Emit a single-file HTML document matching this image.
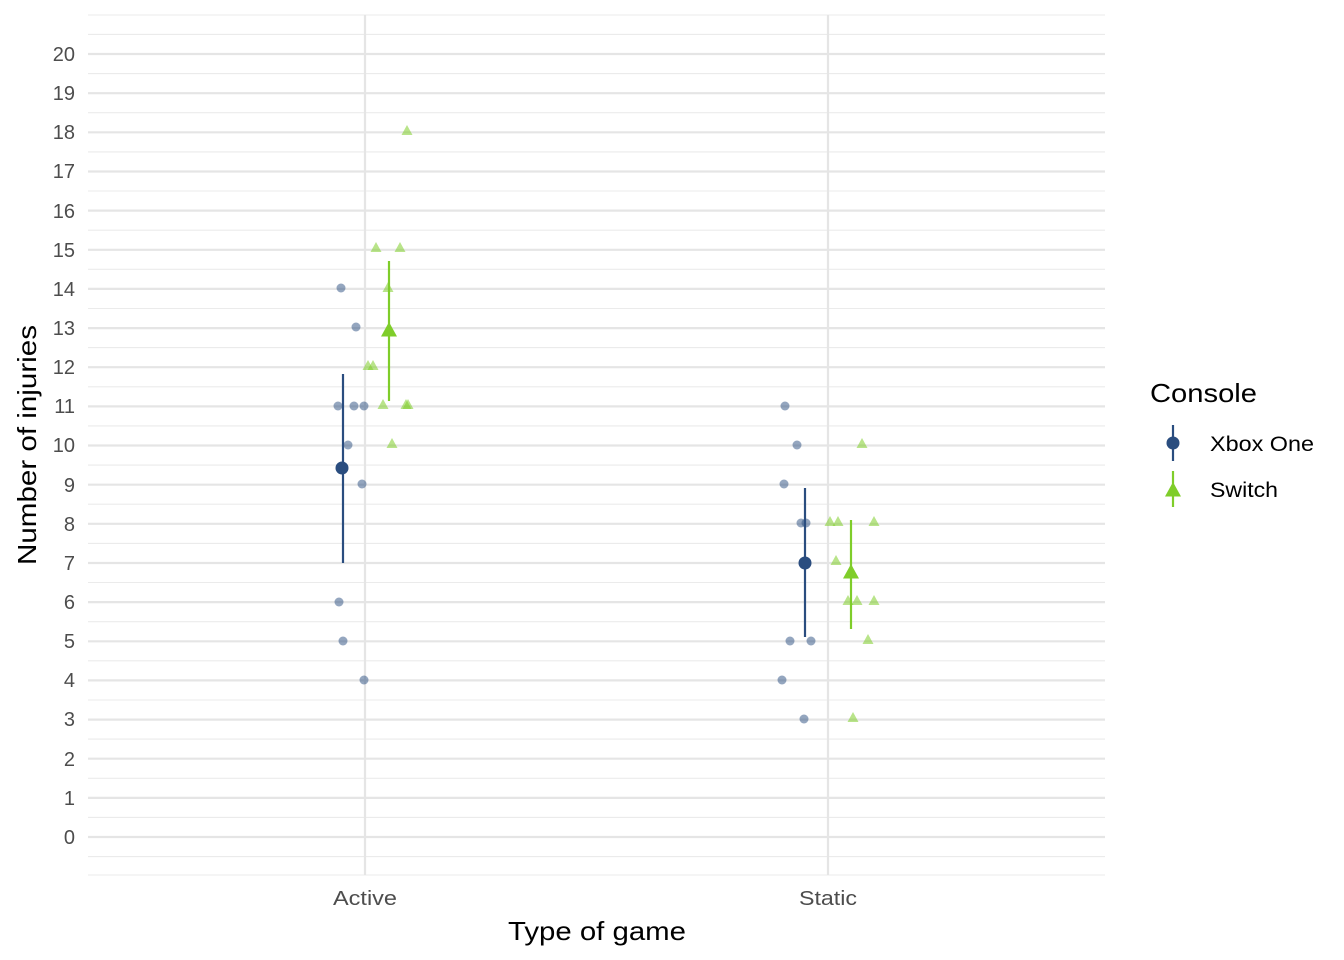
<!DOCTYPE html>
<html><head><meta charset="utf-8"><style>body{margin:0;background:#fff}svg{display:block;font-family:"Liberation Sans",Arial,sans-serif}</style></head><body>
<svg width="1344" height="960" viewBox="0 0 1344 960" xmlns="http://www.w3.org/2000/svg">
<g stroke="#ebebeb" stroke-width="1.1">
<line x1="88" x2="1105" y1="15" y2="15"/><line x1="88" x2="1105" y1="875" y2="875"/>
<line x1="88" x2="1105" y1="856.6" y2="856.6"/><line x1="88" x2="1105" y1="817.4" y2="817.4"/><line x1="88" x2="1105" y1="778.3" y2="778.3"/><line x1="88" x2="1105" y1="739.1" y2="739.1"/><line x1="88" x2="1105" y1="700" y2="700"/><line x1="88" x2="1105" y1="660.8" y2="660.8"/><line x1="88" x2="1105" y1="621.7" y2="621.7"/><line x1="88" x2="1105" y1="582.5" y2="582.5"/><line x1="88" x2="1105" y1="543.4" y2="543.4"/><line x1="88" x2="1105" y1="504.2" y2="504.2"/><line x1="88" x2="1105" y1="465.1" y2="465.1"/><line x1="88" x2="1105" y1="425.9" y2="425.9"/><line x1="88" x2="1105" y1="386.8" y2="386.8"/><line x1="88" x2="1105" y1="347.6" y2="347.6"/><line x1="88" x2="1105" y1="308.5" y2="308.5"/><line x1="88" x2="1105" y1="269.3" y2="269.3"/><line x1="88" x2="1105" y1="230.2" y2="230.2"/><line x1="88" x2="1105" y1="191" y2="191"/><line x1="88" x2="1105" y1="151.9" y2="151.9"/><line x1="88" x2="1105" y1="112.7" y2="112.7"/><line x1="88" x2="1105" y1="73.6" y2="73.6"/><line x1="88" x2="1105" y1="34.4" y2="34.4"/>
</g>
<g stroke="#e5e5e5" stroke-width="2.2">
<line x1="88" x2="1105" y1="837" y2="837"/><line x1="88" x2="1105" y1="797.9" y2="797.9"/><line x1="88" x2="1105" y1="758.7" y2="758.7"/><line x1="88" x2="1105" y1="719.6" y2="719.6"/><line x1="88" x2="1105" y1="680.4" y2="680.4"/><line x1="88" x2="1105" y1="641.3" y2="641.3"/><line x1="88" x2="1105" y1="602.1" y2="602.1"/><line x1="88" x2="1105" y1="563" y2="563"/><line x1="88" x2="1105" y1="523.8" y2="523.8"/><line x1="88" x2="1105" y1="484.7" y2="484.7"/><line x1="88" x2="1105" y1="445.5" y2="445.5"/><line x1="88" x2="1105" y1="406.4" y2="406.4"/><line x1="88" x2="1105" y1="367.2" y2="367.2"/><line x1="88" x2="1105" y1="328.1" y2="328.1"/><line x1="88" x2="1105" y1="288.9" y2="288.9"/><line x1="88" x2="1105" y1="249.8" y2="249.8"/><line x1="88" x2="1105" y1="210.6" y2="210.6"/><line x1="88" x2="1105" y1="171.5" y2="171.5"/><line x1="88" x2="1105" y1="132.3" y2="132.3"/><line x1="88" x2="1105" y1="93.2" y2="93.2"/><line x1="88" x2="1105" y1="54" y2="54"/>
<line x1="365" x2="365" y1="15" y2="875"/><line x1="828" x2="828" y1="15" y2="875"/>
</g>
<g font-size="20" fill="#4d4d4d" text-anchor="end">
<text x="75" y="844">0</text><text x="75" y="805">1</text><text x="75" y="766">2</text><text x="75" y="726">3</text><text x="75" y="687">4</text><text x="75" y="648">5</text><text x="75" y="609">6</text><text x="75" y="570">7</text><text x="75" y="531">8</text><text x="75" y="492">9</text><text x="75" y="452">10</text><text x="75" y="413">11</text><text x="75" y="374">12</text><text x="75" y="335">13</text><text x="75" y="296">14</text><text x="75" y="257">15</text><text x="75" y="218">16</text><text x="75" y="178">17</text><text x="75" y="139">18</text><text x="75" y="100">19</text><text x="75" y="61">20</text>
</g>
<g font-size="20" fill="#4d4d4d"><text x="333" y="905" textLength="64" lengthAdjust="spacingAndGlyphs">Active</text><text x="799" y="905" textLength="58" lengthAdjust="spacingAndGlyphs">Static</text></g>
<text x="508" y="940" font-size="26" textLength="178" lengthAdjust="spacingAndGlyphs">Type of game</text>
<text transform="translate(36,565) rotate(-90)" font-size="26" textLength="240" lengthAdjust="spacingAndGlyphs">Number of injuries</text>
<g fill="#2a4d7f" fill-opacity="0.5">
<circle cx="341" cy="288" r="4.5"/><circle cx="356" cy="327" r="4.5"/><circle cx="338" cy="406" r="4.5"/><circle cx="354" cy="406" r="4.5"/><circle cx="364" cy="406" r="4.5"/><circle cx="348" cy="445" r="4.5"/><circle cx="362" cy="484" r="4.5"/><circle cx="339" cy="602" r="4.5"/><circle cx="343" cy="641" r="4.5"/><circle cx="364" cy="680" r="4.5"/>
<circle cx="785" cy="406" r="4.5"/><circle cx="797" cy="445" r="4.5"/><circle cx="784" cy="484" r="4.5"/><circle cx="801" cy="523" r="4.5"/><circle cx="806" cy="523" r="4.5"/><circle cx="790" cy="641" r="4.5"/><circle cx="811" cy="641" r="4.5"/><circle cx="782" cy="680" r="4.5"/><circle cx="804" cy="719" r="4.5"/>
</g>
<defs><path id="t" d="M0,-6 L5.5,4 L-5.5,4Z"/><path id="T" d="M0,-9 L8,5.5 L-8,5.5Z"/></defs>
<g fill="#7fcd2a" fill-opacity="0.55">
<use href="#t" x="407" y="131"/><use href="#t" x="376" y="248"/><use href="#t" x="400" y="248"/><use href="#t" x="388" y="288"/><use href="#t" x="368" y="366"/><use href="#t" x="373" y="366"/><use href="#t" x="383" y="405"/><use href="#t" x="406" y="405"/><use href="#t" x="408" y="405"/><use href="#t" x="392" y="444"/>
<use href="#t" x="862" y="444"/><use href="#t" x="830" y="522"/><use href="#t" x="838" y="522"/><use href="#t" x="874" y="522"/><use href="#t" x="836" y="561"/><use href="#t" x="848" y="601"/><use href="#t" x="857" y="601"/><use href="#t" x="874" y="601"/><use href="#t" x="868" y="640"/><use href="#t" x="853" y="718"/>
</g>
<g stroke="#2a4d7f" stroke-width="2.2"><line x1="343" x2="343" y1="374" y2="563"/><line x1="805" x2="805" y1="488" y2="637"/></g>
<g fill="#2a4d7f"><circle cx="342" cy="468" r="6.5"/><circle cx="805" cy="563" r="6.5"/></g>
<g stroke="#7fcd2a" stroke-width="2.2"><line x1="389" x2="389" y1="261" y2="401"/><line x1="851" x2="851" y1="520" y2="629"/></g>
<g fill="#7fcd2a"><use href="#T" x="389" y="331"/><use href="#T" x="851" y="573"/></g>
<text x="1150" y="402" font-size="26" textLength="107" lengthAdjust="spacingAndGlyphs">Console</text>
<line x1="1173" x2="1173" y1="425" y2="461" stroke="#2a4d7f" stroke-width="2.2"/><circle cx="1173" cy="443" r="6.5" fill="#2a4d7f"/>
<line x1="1173" x2="1173" y1="471" y2="507" stroke="#7fcd2a" stroke-width="2.2"/><use href="#T" x="1173" y="491" fill="#7fcd2a"/>
<text x="1210" y="451" font-size="21" textLength="104" lengthAdjust="spacingAndGlyphs">Xbox One</text><text x="1210" y="497" font-size="21" textLength="68" lengthAdjust="spacingAndGlyphs">Switch</text>
</svg>
</body></html>
